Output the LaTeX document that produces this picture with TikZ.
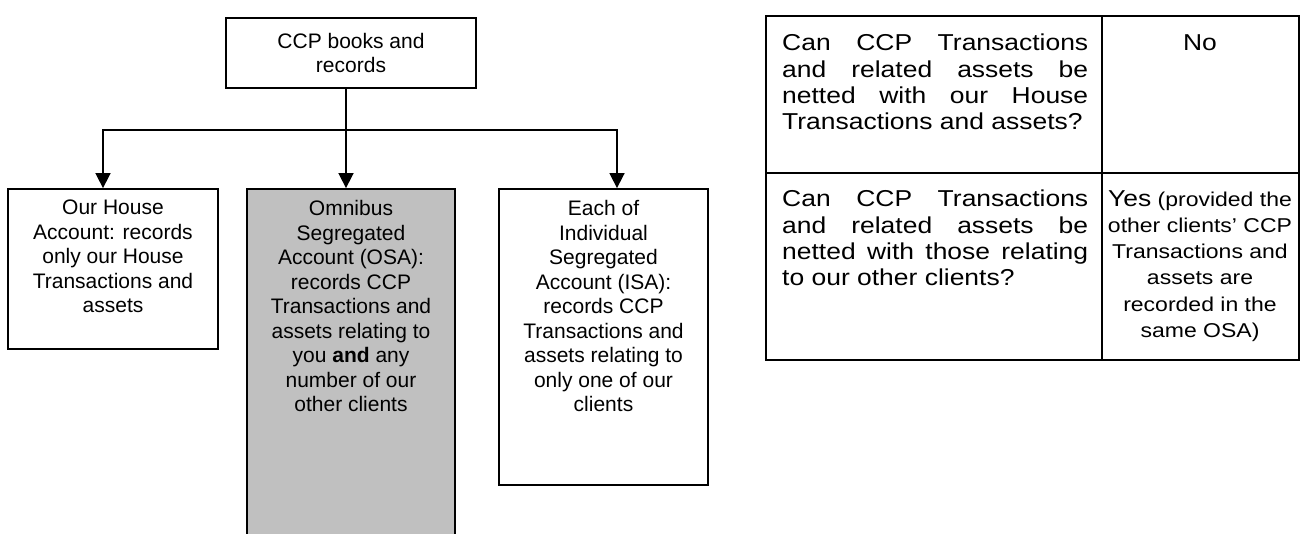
\documentclass[tikz,border=0pt]{standalone}
\usepackage{fontspec}
\setmainfont{Liberation Sans}
\newfontfamily\tablefamily{Liberation Sans}[FakeStretch=1.15]
\usetikzlibrary{arrows.meta,positioning}
\definecolor{osagrey}{RGB}{192,192,192}
\newcommand\acctfont{\fontsize{21}{24.5}\selectfont}
\newcommand\tablefont{\tablefamily\fontsize{23}{26.3}\selectfont}
\newcommand\notefont{\tablefamily\fontsize{20}{26.3}\selectfont}
\tikzset{
  acctbox/.style={draw=black, line width=1.8pt, inner sep=0pt},
  accttext/.style={align=center, inner sep=0pt, font=\acctfont},
  flow/.style={line width=1.6pt, -{Triangle[length=15pt,width=15pt]}},
  grid/.style={line width=2pt},
  question/.style={text width=306pt, align=justify, inner sep=0pt, font=\tablefont},
  answer/.style={align=center, inner sep=0pt, font=\notefont}
}
\begin{document}
\begin{tikzpicture}[x=1pt,y=-1pt]
\useasboundingbox (0,0) rectangle (1300,533);
% account chart
\node[acctbox, minimum width=250, minimum height=70, align=center, font=\acctfont] (ccp) at (351,53) {CCP books and\\records};
\node[acctbox, minimum width=210, minimum height=160] (house) at (113,269) {};
\node[acctbox, fill=osagrey, minimum width=208, minimum height=352] (osa) at (351,365) {};
\node[acctbox, minimum width=209, minimum height=296] (isa) at (603.5,337) {};
\node[accttext, below=12pt of house.north] (housetext) {Our House\\Account: records\\only our House\\Transactions and\\assets};
\node[accttext, below=12pt of osa.north] (osatext) {Omnibus\\Segregated\\Account (OSA):\\records CCP\\Transactions and\\assets relating to\\you \textbf{and} any\\number of our\\other clients};
\node[accttext, below=12pt of isa.north] (isatext) {Each of\\Individual\\Segregated\\Account (ISA):\\records CCP\\Transactions and\\assets relating to\\only one of our\\clients};
\draw[line width=1.6pt] ([xshift=-5pt]ccp.south) -- ++(0,41) coordinate (split);
\draw[flow] (split) -| ([xshift=-10pt]house.north);
\draw[flow] (split) -- ([xshift=-5pt]osa.north);
\draw[flow] (split) -| ([xshift=13.5pt]isa.north);
% netting table
\draw[grid] (766,16) rectangle (1299,360);
\draw[grid] (766,173) -- (1299,173);
\draw[grid] (1102,16) -- (1102,360);
\node[question, anchor=north west] (qhouse) at (782,34) {Can CCP Transactions\linebreak and related assets be\linebreak netted with our House\linebreak Transactions and assets?};
\node[question, anchor=north west] (qclients) at (782,190) {Can CCP Transactions\linebreak and related assets be\linebreak netted with those relating\linebreak to our other clients?};
\node[answer, font=\tablefont, anchor=north] (ahouse) at (1200,34) {No};
\node[answer, anchor=north] (aclients) at (1200,190) {{\tablefont Yes} (provided the\\other clients’ CCP\\Transactions and\\assets are\\recorded in the\\same OSA)};
\end{tikzpicture}
\end{document}
